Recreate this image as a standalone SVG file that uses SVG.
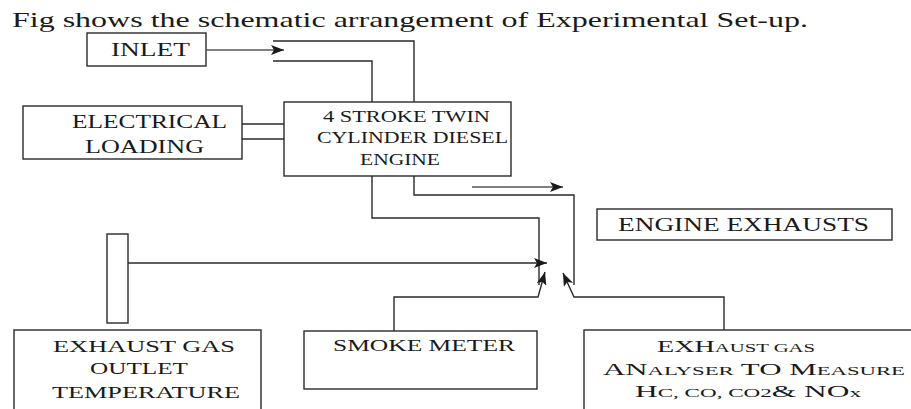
<svg xmlns="http://www.w3.org/2000/svg" width="911" height="409" viewBox="0 0 911 409">
<style>
  .box{fill:#fff;stroke:#2a2a2a;stroke-width:1.4}
  .ln{fill:none;stroke:#2a2a2a;stroke-width:1.4}
  .lg{fill:none;stroke:#555;stroke-width:1.4}
  .t{font-family:'Liberation Serif','DejaVu Serif',serif;fill:#1a1a1a}
</style>
<defs>
  <marker id="ah" markerUnits="userSpaceOnUse" markerWidth="14" markerHeight="10" refX="13" refY="5" orient="auto">
    <path d="M0,0 L13,5 L0,10 L3,5 z" fill="#1a1a1a"/>
  </marker>
</defs>
<rect width="911" height="409" fill="#fff"/>
<g font-family="'Liberation Serif', 'DejaVu Serif', serif">
<text class="t" x="12" y="27" font-size="22" textLength="796" lengthAdjust="spacingAndGlyphs">Fig shows the schematic arrangement of Experimental Set-up.</text>

<g id="inlet">
  <rect class="box" x="87" y="33" width="119" height="33"/>
  <text class="t" x="111" y="56" font-size="19" textLength="79" lengthAdjust="spacingAndGlyphs">INLET</text>
</g>
<g id="electrical">
  <rect class="box" x="23" y="106" width="219" height="53"/>
  <text class="t" x="72" y="128" font-size="18" textLength="155" lengthAdjust="spacingAndGlyphs">ELECTRICAL</text>
  <text class="t" x="85" y="153" font-size="18" textLength="119" lengthAdjust="spacingAndGlyphs">LOADING</text>
</g>
<g id="engine">
  <rect class="box" x="284" y="102" width="227" height="74"/>
  <text class="t" x="323" y="122" font-size="16" textLength="167" lengthAdjust="spacingAndGlyphs">4 STROKE TWIN</text>
  <text class="t" x="317" y="143" font-size="16" textLength="191" lengthAdjust="spacingAndGlyphs">CYLINDER DIESEL</text>
  <text class="t" x="360" y="165" font-size="16" textLength="80" lengthAdjust="spacingAndGlyphs">ENGINE</text>
</g>
<g id="exhausts">
  <rect class="box" x="597" y="209" width="295" height="31"/>
  <text class="t" x="618" y="231" font-size="18" textLength="251" lengthAdjust="spacingAndGlyphs">ENGINE EXHAUSTS</text>
</g>
<g id="sensor">
  <rect class="box" x="107" y="234" width="21" height="89"/>
</g>
<g id="temperature">
  <rect class="box" x="14" y="330" width="247" height="95"/>
  <text class="t" x="53" y="352" font-size="17" textLength="182" lengthAdjust="spacingAndGlyphs">EXHAUST GAS</text>
  <text class="t" x="90" y="374" font-size="17" textLength="98" lengthAdjust="spacingAndGlyphs">OUTLET</text>
  <text class="t" x="52" y="398" font-size="17" textLength="188" lengthAdjust="spacingAndGlyphs">TEMPERATURE</text>
</g>
<g id="smoke">
  <rect class="box" x="304" y="331" width="233" height="58"/>
  <text class="t" x="333" y="351" font-size="16" textLength="182" lengthAdjust="spacingAndGlyphs">SMOKE METER</text>
</g>
<g id="analyser">
  <rect class="box" x="584" y="330" width="340" height="95"/>
  <text class="t" x="657" y="352" font-size="17" textLength="158" lengthAdjust="spacingAndGlyphs">EXH<tspan font-size="12.5">AUST GAS</tspan></text>
  <text class="t" x="603" y="375" font-size="17" textLength="302" lengthAdjust="spacingAndGlyphs">AN<tspan font-size="12.5">ALYSER</tspan> TO M<tspan font-size="12.5">EASURE</tspan></text>
  <text class="t" x="635" y="397" font-size="17" textLength="226" lengthAdjust="spacingAndGlyphs">H<tspan font-size="12.5">C, CO, CO2</tspan>&amp; NO<tspan font-size="12.5">x</tspan></text>
</g>
</g>

<g id="connectors">
  <path class="lg" d="M206,50 H284" marker-end="url(#ah)"/>
  <path class="ln" d="M273,41 H414 V102"/>
  <path class="ln" d="M273,61 H372 V102"/>
  <path class="ln" d="M242,124 H284"/>
  <path class="ln" d="M242,139 H284"/>
  <path class="ln" d="M372,176 V218 H539 V285"/>
  <path class="ln" d="M414,176 V195 H574 V285"/>
  <path class="lg" d="M472,187 H563" marker-end="url(#ah)"/>
  <path class="ln" d="M128,263 H547" marker-end="url(#ah)"/>
  <path class="ln" d="M394,331 V297 H538 L545,272" marker-end="url(#ah)"/>
  <path class="ln" d="M724,330 V297 H574 L563,273" marker-end="url(#ah)"/>
</g>
</svg>
